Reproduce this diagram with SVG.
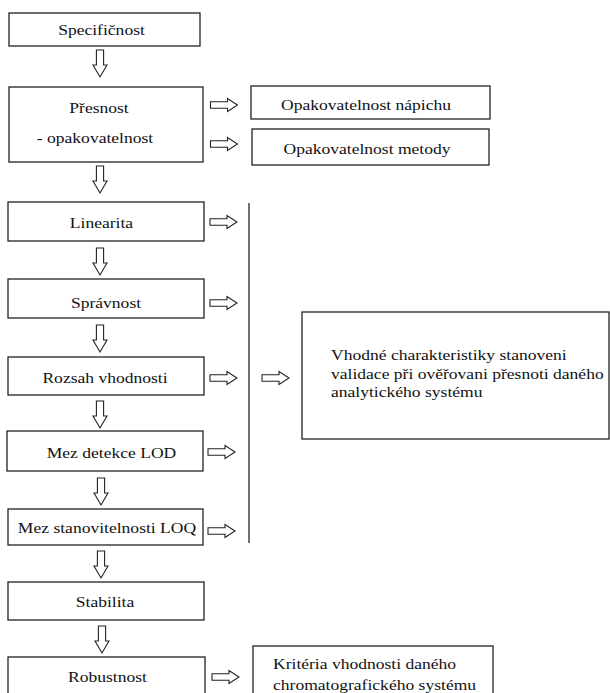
<svg xmlns="http://www.w3.org/2000/svg" xmlns:xlink="http://www.w3.org/1999/xlink" width="610" height="693" viewBox="0 0 610 693" font-family="Liberation Serif, serif">
<style>
.box{fill:#fff;stroke:#222;stroke-width:1.3}
.t{font-family:'Liberation Serif',serif;font-size:15px;fill:#111}
.c{text-anchor:middle}
.arr{fill:#fff;stroke:#222;stroke-width:1.1;stroke-linejoin:miter}
.ln{stroke:#222;stroke-width:1.3;fill:none}
</style>
<defs>
<path id="ra" class="arr" d="M0,-3.3 H17 V-6.5 L27,0 L17,6.5 V3.3 H0 Z"/>
<path id="da" class="arr" d="M-3.6,0 V15 H-7 L0,27 L7,15 H3.6 V0 Z"/>
</defs>
<rect width="610" height="693" fill="#fff"/>
<g id="specificnost"><rect class="box" x="9" y="13" width="191" height="33"/><text class="t c" transform="translate(101.5,35) scale(1.17,1)">Specifičnost</text></g>
<g id="presnost"><rect class="box" x="9" y="87" width="194" height="75"/><text class="t c" transform="translate(99,113) scale(1.17,1)">Přesnost</text><text class="t c" transform="translate(95,143) scale(1.17,1)">- opakovatelnost</text></g>
<g id="napich"><rect class="box" x="251" y="86" width="239" height="33"/><text class="t c" transform="translate(366,110) scale(1.17,1)">Opakovatelnost nápichu</text></g>
<g id="metody"><rect class="box" x="252" y="129" width="237" height="36"/><text class="t c" transform="translate(367,154) scale(1.17,1)">Opakovatelnost metody</text></g>
<g id="linearita"><rect class="box" x="8" y="202" width="196" height="39"/><text class="t c" transform="translate(101.5,227.5) scale(1.17,1)">Linearita</text></g>
<g id="spravnost"><rect class="box" x="8" y="279" width="196" height="39"/><text class="t c" transform="translate(106,308) scale(1.17,1)">Správnost</text></g>
<g id="rozsah"><rect class="box" x="8" y="357" width="196" height="38"/><text class="t c" transform="translate(105,383) scale(1.17,1)">Rozsah vhodnosti</text></g>
<g id="lod"><rect class="box" x="7" y="431" width="196" height="40"/><text class="t c" transform="translate(111.5,458) scale(1.17,1)">Mez detekce LOD</text></g>
<g id="loq"><rect class="box" x="8" y="509" width="195" height="36"/><text class="t c" transform="translate(107,533) scale(1.17,1)">Mez stanovitelnosti LOQ</text></g>
<g id="stabilita"><rect class="box" x="8" y="582" width="196" height="38"/><text class="t c" transform="translate(105,607) scale(1.17,1)">Stabilita</text></g>
<g id="robustnost"><rect class="box" x="8" y="657" width="197" height="50"/><text class="t c" transform="translate(107.5,682) scale(1.17,1)">Robustnost</text></g>
<g id="vhodne"><rect class="box" x="302" y="312" width="307" height="127"/><text class="t" transform="translate(331,360) scale(1.17,1)">Vhodné charakteristiky stanoveni</text><text class="t" transform="translate(331,378.5) scale(1.17,1)">validace při ověřovani přesnoti daného</text><text class="t" transform="translate(331,397) scale(1.17,1)">analytického systému</text></g>
<g id="kriteria"><rect class="box" x="253" y="646" width="240" height="60"/><text class="t" transform="translate(273,669) scale(1.17,1)">Kritéria vhodnosti daného</text><text class="t" transform="translate(273,690) scale(1.17,1)">chromatografického systému</text></g>
<g id="connectors">
<line class="ln" x1="249" y1="203" x2="249" y2="543"/>
<use xlink:href="#da" x="100" y="50"/>
<use xlink:href="#da" x="100" y="166"/>
<use xlink:href="#da" x="100" y="248"/>
<use xlink:href="#da" x="100" y="325"/>
<use xlink:href="#da" x="100" y="401"/>
<use xlink:href="#da" x="101" y="478"/>
<use xlink:href="#da" x="101" y="551"/>
<use xlink:href="#da" x="102" y="626"/>
<use xlink:href="#ra" x="210.5" y="105"/>
<use xlink:href="#ra" x="210.5" y="144"/>
<use xlink:href="#ra" x="210" y="222"/>
<use xlink:href="#ra" x="210" y="303"/>
<use xlink:href="#ra" x="210" y="378"/>
<use xlink:href="#ra" x="208" y="452"/>
<use xlink:href="#ra" x="208" y="531"/>
<use xlink:href="#ra" x="212" y="677"/>
<use xlink:href="#ra" x="262" y="378"/>
</g>
</svg>
